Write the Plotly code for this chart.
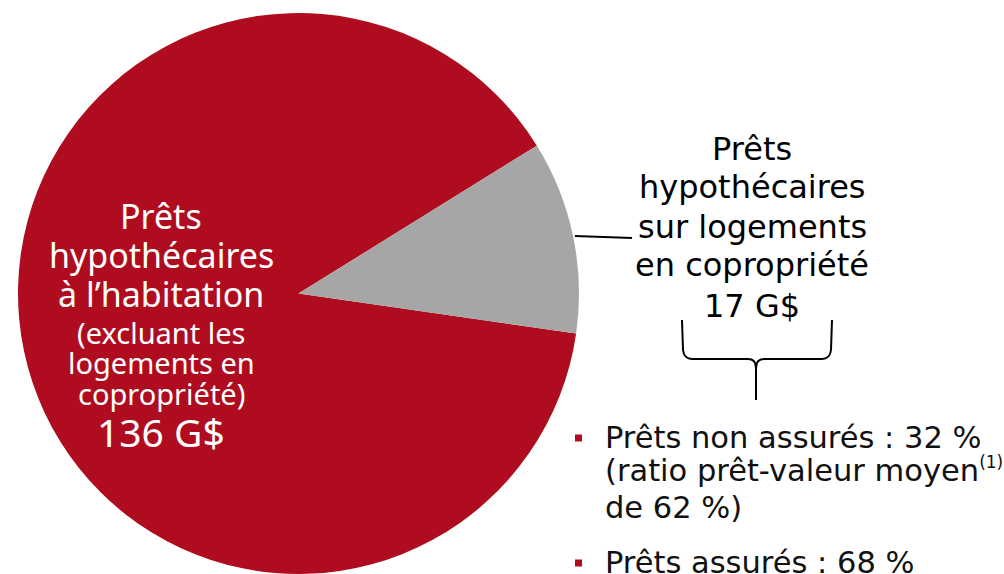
import plotly.graph_objects as go

W, H = 1004, 574

categories = [
    "Prêts hypothécaires à l'habitation (excluant les logements en copropriété)",
    "Prêts hypothécaires sur logements en copropriété",
]
values = [136, 17]
colors = ["#AF0D1F", "#A6A6A6"]

white_lines = ["Prêts", "hypothécaires", "à l’habitation", "(excluant les",
               "logements en", "copropriété)", "136 G$"]
black_lines = ["Prêts", "hypothécaires", "sur logements", "en copropriété", "17 G$"]
bullet_lines = ["Prêts non assurés : 32 %",
                "(ratio prêt-valeur moyen<sup><span style=\"font-size:17px\">(1)</span></sup>",
                "de 62 %)",
                "Prêts assurés : 68 %"]


def px(x):
    return x / W


def py(y):
    return 1 - y / H


fig = go.Figure()
fig.add_trace(go.Pie(
    labels=categories, values=values, sort=False, direction="clockwise",
    rotation=98.2, marker=dict(colors=colors, line=dict(width=0)),
    textinfo="none", hoverinfo="label+value", showlegend=False,
    domain=dict(x=[px(16), px(581)], y=[0, py(13)]),
))

ann = []
# white labels inside red slice
w_y = [216, 255, 294, 332, 362, 393, 431]
w_size = [34, 34, 34, 29, 29, 29, 39]
for t, y, s in zip(white_lines, w_y, w_size):
    ann.append(dict(text=t, x=px(161), y=py(y), xref="paper", yref="paper",
                    xanchor="center", yanchor="middle", showarrow=False,
                    font=dict(family="Noto Sans", size=s, color="white")))
# black label for gray slice
b_y = [149, 187, 227, 265, 306]
for t, y in zip(black_lines, b_y):
    ann.append(dict(text=t, x=px(752), y=py(y), xref="paper", yref="paper",
                    xanchor="center", yanchor="middle", showarrow=False,
                    font=dict(family="DejaVu Sans", size=32, color="black")))
# bullet text
bl_y = [438, 470, 507, 562]
for t, y in zip(bullet_lines, bl_y):
    ann.append(dict(text=t, x=px(603), y=py(y), xref="paper", yref="paper",
                    xanchor="left", yanchor="middle", showarrow=False,
                    font=dict(family="DejaVu Sans", size=30.5, color="#111111")))
fig.update_layout(annotations=ann)

shapes = []
# leader line
shapes.append(dict(type="line", xref="paper", yref="paper",
                   x0=px(575), y0=py(236), x1=px(632), y1=py(238),
                   line=dict(color="black", width=2)))


def P(x, y):
    return f"{px(x):.5f},{py(y):.5f}"


brace = ("M " + P(682, 320) + " L " + P(683, 350) + " Q " + P(684, 359) + " " + P(692, 359)
         + " L " + P(748, 359) + " Q " + P(756, 359) + " " + P(756, 368) + " L " + P(756, 400)
         + " M " + P(832, 320) + " L " + P(831, 350) + " Q " + P(830, 359) + " " + P(822, 359)
         + " L " + P(764, 359) + " Q " + P(756, 359) + " " + P(756, 368))
shapes.append(dict(type="path", xref="paper", yref="paper", path=brace,
                   line=dict(color="black", width=2)))
# bullets
for cy in [438, 563]:
    shapes.append(dict(type="rect", xref="paper", yref="paper",
                       x0=px(575), x1=px(582), y0=py(cy - 3.5), y1=py(cy + 3.5),
                       fillcolor="#AF0D1F", line=dict(width=0)))
fig.update_layout(shapes=shapes)

fig.update_layout(width=W, height=H, margin=dict(l=0, r=0, t=0, b=0),
                  paper_bgcolor="white", plot_bgcolor="white")
fig.write_html("out.html", config={"displayModeBar": False},
               post_script="document.body.style.margin='0px';document.body.style.overflow='hidden';")
